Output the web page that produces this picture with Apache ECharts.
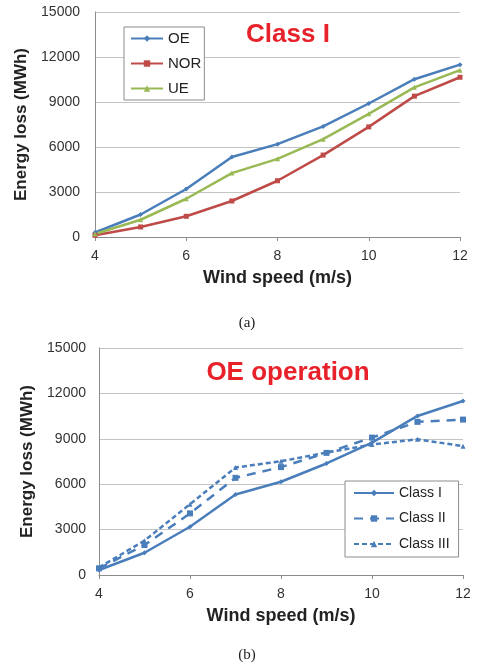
<!DOCTYPE html>
<html><head><meta charset="utf-8">
<script src="https://cdn.jsdelivr.net/npm/echarts@6/dist/echarts.min.js"></script>
<style>html,body{margin:0;padding:0;background:#fff}#c{width:483px;height:665px}</style>
</head><body><div id="c"></div>
<script>
const windSpeed = [4, 5, 6, 7, 8, 9, 10, 11, 12];
const yTicks = [0, 3000, 6000, 9000, 12000, 15000];
// (a) Class I
const oe  = [300, 1500, 3200, 5330, 6190, 7370, 8900, 10520, 11490];
const nor = [110, 670, 1380, 2400, 3750, 5460, 7340, 9390, 10650];
const ue  = [200, 1150, 2550, 4260, 5210, 6520, 8210, 9980, 11120];
// (b) OE operation
const classI   = [330, 1470, 3190, 5320, 6160, 7370, 8750, 10510, 11500];
const classII  = [440, 1980, 4070, 6420, 7130, 8070, 9080, 10120, 10270];
const classIII = [500, 2270, 4680, 7100, 7520, 8090, 8620, 8970, 8510];

const pairs = v => windSpeed.map((x, i) => [x, v[i]]);
const FONT = 'Liberation Sans, Arial, sans-serif';
const BLUE = '#4a7ebb', RED = '#be4b48', GREEN = '#98b954';

function xAx(gi) {
  return {
    gridIndex: gi, type: 'value', min: 4, max: 12, interval: 2,
    name: 'Wind speed (m/s)', nameLocation: 'middle', nameGap: 32,
    nameTextStyle: {fontFamily: FONT, fontWeight: 'bold', fontSize: 18, color: '#222'},
    axisLine: {lineStyle: {color: '#8c8c8c'}},
    axisTick: {show: true, length: 4, lineStyle: {color: '#8c8c8c'}},
    axisLabel: {fontFamily: FONT, fontSize: 14, color: '#333', margin: 12},
    splitLine: {show: false}
  };
}
function yAx(gi, margin, gap) {
  return {
    gridIndex: gi, type: 'value', min: yTicks[0], max: yTicks[yTicks.length - 1],
    interval: yTicks[1] - yTicks[0],
    name: 'Energy loss (MWh)', nameLocation: 'middle', nameGap: gap,
    nameTextStyle: {fontFamily: FONT, fontWeight: 'bold', fontSize: 17, color: '#222'},
    axisLine: {show: true, lineStyle: {color: '#8c8c8c'}},
    axisTick: {show: false},
    axisLabel: {fontFamily: FONT, fontSize: 14, color: '#333', margin: margin,
                formatter: v => String(v)},
    splitLine: {lineStyle: {color: '#c4c4c4'}}
  };
}
function ser(name, data, gi, color, symbol, size, dash) {
  return {
    name, type: 'line', xAxisIndex: gi, yAxisIndex: gi, data: pairs(data),
    symbol, symbolSize: size, showSymbol: true,
    lineStyle: {color, width: 2.5, type: dash || 'solid'},
    itemStyle: {color}, animation: false
  };
}

const chart = echarts.init(document.getElementById('c'), null, {renderer: 'canvas'});
chart.setOption({
  animation: false,
  backgroundColor: '#fff',
  grid: [
    {left: 95, right: 23, top: 12, height: 225},
    {left: 99, right: 20, top: 348, height: 227}
  ],
  xAxis: [xAx(0), xAx(1)],
  yAxis: [yAx(0, 15, 55), yAx(1, 13, 53)],
  title: [
    {text: 'Class I', left: 283, top: 17, textAlign: 'center',
     textStyle: {fontFamily: FONT, fontWeight: 'bold', fontSize: 26, color: '#e8222b'}},
    {text: 'OE operation', left: 283, top: 355, textAlign: 'center',
     textStyle: {fontFamily: FONT, fontWeight: 'bold', fontSize: 26, color: '#e8222b'}},
    {text: '(a)', left: 242, top: 311, textAlign: 'center',
     textStyle: {fontFamily: 'Liberation Serif, Times New Roman, serif', fontWeight: 'normal', fontSize: 15, color: '#222'}},
    {text: '(b)', left: 242, top: 643, textAlign: 'center',
     textStyle: {fontFamily: 'Liberation Serif, Times New Roman, serif', fontWeight: 'normal', fontSize: 15, color: '#222'}}
  ],
  legend: [
    {data: ['OE', 'NOR', 'UE'], orient: 'vertical', left: 124, top: 27,
     padding: [4, 3, 4, 6], itemGap: 10, itemWidth: 32, itemHeight: 8, itemTextGap: 0,
     borderColor: '#8c8c8c', borderWidth: 1, backgroundColor: '#fff',
     textStyle: {fontFamily: FONT, fontSize: 15, color: '#222'}},
    {data: ['Class I', 'Class II', 'Class III'], orient: 'vertical', left: 345, top: 481,
     padding: [5, 9, 6, 8], itemGap: 11.5, itemWidth: 40, itemHeight: 8, itemTextGap: 4,
     borderColor: '#8c8c8c', borderWidth: 1, backgroundColor: '#fff',
     textStyle: {fontFamily: FONT, fontSize: 14, color: '#222'}}
  ],
  series: [
    ser('OE', oe, 0, BLUE, 'diamond', 5),
    ser('NOR', nor, 0, RED, 'rect', 5),
    ser('UE', ue, 0, GREEN, 'triangle', 5),
    ser('Class I', classI, 1, BLUE, 'diamond', 5),
    ser('Class II', classII, 1, BLUE, 'rect', 6, [9, 7]),
    ser('Class III', classIII, 1, BLUE, 'triangle', 5, [5, 3])
  ]
});
</script>
</body></html>
